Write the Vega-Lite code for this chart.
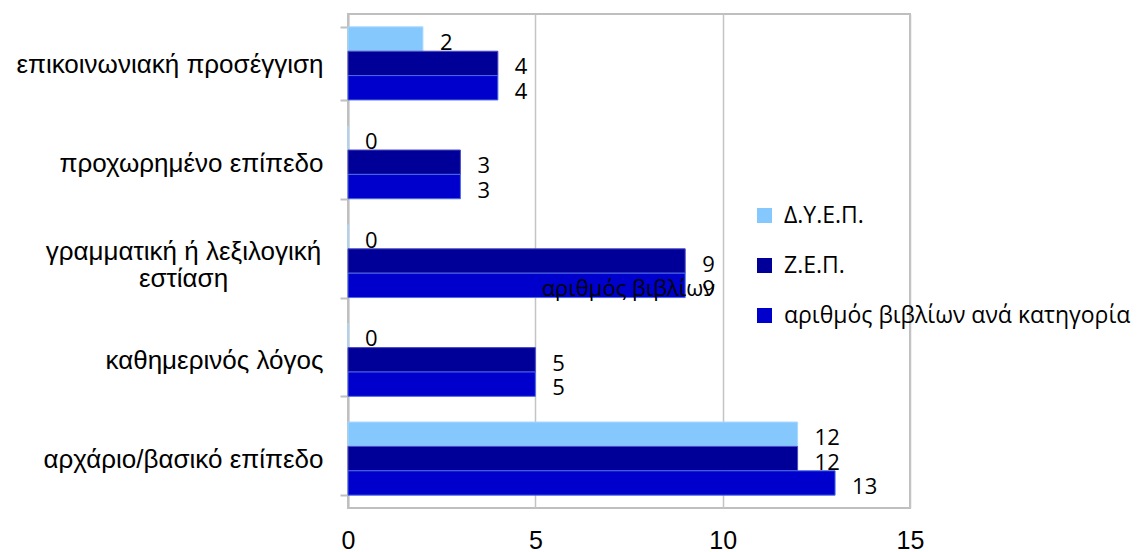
{
  "$schema": "https://vega.github.io/schema/vega-lite/v6.json",
  "width": 562,
  "height": 494,
  "autosize": "none",
  "padding": {"left": 348, "top": 14, "right": 231, "bottom": 44},
  "background": "white",
  "config": {
    "view": {"stroke": "#bfbfbf", "strokeWidth": 2},
    "font": "Liberation Sans"
  },
  "data": {
    "values": [
      {"category": "επικοινωνιακή προσέγγιση", "series": "Δ.Υ.Ε.Π.", "value": 2},
      {"category": "επικοινωνιακή προσέγγιση", "series": "Ζ.Ε.Π.", "value": 4},
      {"category": "επικοινωνιακή προσέγγιση", "series": "αριθμός βιβλίων ανά κατηγορία", "value": 4},
      {"category": "προχωρημένο επίπεδο", "series": "Δ.Υ.Ε.Π.", "value": 0},
      {"category": "προχωρημένο επίπεδο", "series": "Ζ.Ε.Π.", "value": 3},
      {"category": "προχωρημένο επίπεδο", "series": "αριθμός βιβλίων ανά κατηγορία", "value": 3},
      {"category": "γραμματική ή λεξιλογική εστίαση", "series": "Δ.Υ.Ε.Π.", "value": 0},
      {"category": "γραμματική ή λεξιλογική εστίαση", "series": "Ζ.Ε.Π.", "value": 9},
      {"category": "γραμματική ή λεξιλογική εστίαση", "series": "αριθμός βιβλίων ανά κατηγορία", "value": 9, "tag": "αριθμός βιβλίων"},
      {"category": "καθημερινός λόγος", "series": "Δ.Υ.Ε.Π.", "value": 0},
      {"category": "καθημερινός λόγος", "series": "Ζ.Ε.Π.", "value": 5},
      {"category": "καθημερινός λόγος", "series": "αριθμός βιβλίων ανά κατηγορία", "value": 5},
      {"category": "αρχάριο/βασικό επίπεδο", "series": "Δ.Υ.Ε.Π.", "value": 12},
      {"category": "αρχάριο/βασικό επίπεδο", "series": "Ζ.Ε.Π.", "value": 12},
      {"category": "αρχάριο/βασικό επίπεδο", "series": "αριθμός βιβλίων ανά κατηγορία", "value": 13}
    ]
  },
  "encoding": {
    "y": {
      "field": "category",
      "type": "nominal",
      "sort": null,
      "scale": {"paddingInner": 0.26, "paddingOuter": 0.13},
      "axis": {
        "title": null,
        "domainColor": "#bfbfbf",
        "domainWidth": 2,
        "tickColor": "#bfbfbf",
        "tickWidth": 2,
        "tickSize": 8,
        "tickBand": "extent",
        "labelFont": "Liberation Sans",
        "labelFontSize": 26,
        "labelColor": "#000000",
        "labelLineHeight": 27,
        "labelLimit": 400,
        "labelExpr": "datum.value == 'γραμματική ή λεξιλογική εστίαση' ? ['γραμματική ή λεξιλογική', 'εστίαση'] : datum.value",
        "labelAlign": {"condition": {"test": "datum.value == 'γραμματική ή λεξιλογική εστίαση'", "value": "center"}, "value": "right"},
        "labelPadding": {"condition": {"test": "datum.value == 'γραμματική ή λεξιλογική εστίαση'", "value": 157}, "value": 17},
        "labelOffset": {"condition": {"test": "datum.value == 'γραμματική ή λεξιλογική εστίαση'", "value": -10}, "value": 1}
      }
    },
    "yOffset": {
      "field": "series",
      "type": "nominal",
      "sort": ["Δ.Υ.Ε.Π.", "Ζ.Ε.Π.", "αριθμός βιβλίων ανά κατηγορία"],
      "scale": {"paddingInner": 0, "paddingOuter": 0}
    },
    "x": {
      "field": "value",
      "type": "quantitative",
      "scale": {"domain": [0, 15], "nice": false},
      "axis": {
        "title": null,
        "values": [0, 5, 10, 15],
        "grid": true,
        "gridColor": "#c4c4c4",
        "gridWidth": 1.5,
        "ticks": false,
        "domain": false,
        "labelFont": "Liberation Sans",
        "labelFontSize": 25,
        "labelColor": "#000000",
        "labelPadding": 20,
        "labelFlush": false
      }
    }
  },
  "layer": [
    {
      "mark": {"type": "bar", "strokeWidth": 1},
      "encoding": {
        "color": {
          "field": "series",
          "type": "nominal",
          "sort": ["Δ.Υ.Ε.Π.", "Ζ.Ε.Π.", "αριθμός βιβλίων ανά κατηγορία"],
          "scale": {
            "domain": ["Δ.Υ.Ε.Π.", "Ζ.Ε.Π.", "αριθμός βιβλίων ανά κατηγορία"],
            "range": ["#85c8fe", "#000099", "#0000cc"]
          },
          "legend": {
            "title": null,
            "orient": "none",
            "legendX": 405,
            "legendY": 190,
            "symbolType": "square",
            "symbolSize": 225,
            "symbolStrokeWidth": 0,
            "labelFont": "Open Sans",
            "labelFontSize": 23,
            "labelColor": "#000000",
            "labelOffset": 8,
            "labelLimit": 500,
            "rowPadding": 26
          }
        },
        "stroke": {
          "field": "series",
          "type": "nominal",
          "scale": {
            "domain": ["Δ.Υ.Ε.Π.", "Ζ.Ε.Π.", "αριθμός βιβλίων ανά κατηγορία"],
            "range": ["#a9d9ff", "#4a4ac4", "#4a6ae4"]
          },
          "legend": null
        }
      }
    },
    {
      "mark": {"type": "text", "align": "left", "baseline": "middle", "dx": 17, "dy": 4, "font": "Open Sans", "fontSize": 22, "color": "#000000"},
      "encoding": {
        "text": {"field": "value", "type": "quantitative"}
      }
    },
    {
      "transform": [{"filter": "isValid(datum.tag)"}],
      "mark": {"type": "text", "align": "right", "baseline": "middle", "dx": 30, "dy": 4, "font": "Open Sans", "fontSize": 22, "color": "#000000"},
      "encoding": {
        "text": {"field": "tag", "type": "nominal"}
      }
    }
  ]
}
